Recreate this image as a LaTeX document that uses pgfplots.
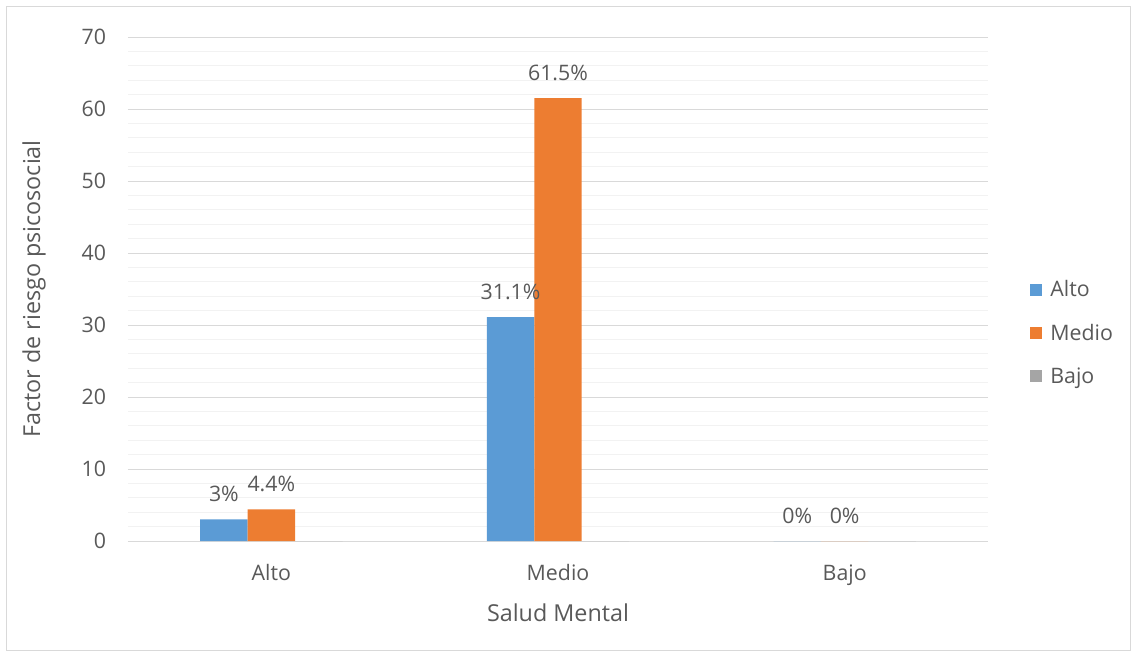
\documentclass[border=0pt]{standalone}
\usepackage{pgfplots}
\pgfplotsset{compat=1.18}
\usepackage{fontspec}
\setmainfont{Open Sans}
\definecolor{cblue}{HTML}{5B9BD5}
\definecolor{corange}{HTML}{ED7D31}
\definecolor{cgray}{HTML}{A5A5A5}
\definecolor{ctext}{HTML}{595959}
\definecolor{cgrid}{HTML}{D9D9D9}
\definecolor{cminor}{HTML}{F2F2F2}
\begin{document}
\begin{tikzpicture}
\useasboundingbox (-96pt,-84pt) rectangle (752.25pt,405.75pt);
\draw[cgrid, line width=0.75pt] (-90.75pt,-81.75pt) rectangle (751.5pt,400.5pt);
\begin{axis}[
  at={(0,0)}, anchor=south west,
  scale only axis, width=645pt, height=378pt,
  ybar=0pt, bar width=0.1655,
  xmin=-0.5, xmax=2.5, ymin=0, ymax=70,
  xtick={0,1,2}, xticklabels={Alto,Medio,Bajo},
  ytick={0,10,...,70},
  minor y tick num=4,
  ymajorgrids, yminorgrids,
  major grid style={cgrid, line width=0.75pt},
  minor grid style={cminor, line width=0.75pt},
  major tick length=0pt, minor tick length=0pt,
  axis line style={draw=none},
  ticklabel style={font=\fontsize{16}{18}\selectfont, text=ctext},
  /pgf/number format/assume math mode=true,
  yticklabel style={xshift=-13pt},
  xticklabel style={yshift=-14pt},
  xlabel={Salud Mental}, ylabel={Factor de riesgo psicosocial},
  label style={font=\fontsize{17.5}{20}\selectfont, text=ctext},
  ylabel style={yshift=20pt},
  xlabel style={yshift=-7pt},
  nodes near coords={\pgfplotspointmeta},
  point meta=explicit symbolic,
  every node near coord/.append style={font=\fontsize{16}{18}\selectfont, text=ctext, yshift=9.5pt},
  legend style={at={(1.049,0.413)}, anchor=west, draw=none, fill=none,
    font=\fontsize{16}{18}\selectfont, text=ctext, row sep=15pt, column sep=4pt,
    inner sep=0pt},
  legend cell align=left,
  legend image code/.code={\fill[#1, draw=none] (0pt,-4.5pt) rectangle (9pt,4.5pt);},
]
\addplot[fill=cblue, draw=none] coordinates {(0,3) [3\%] (1,31.1) [31.1\%] (2,0) [0\%]};
\addplot[fill=corange, draw=none] coordinates {(0,4.4) [4.4\%] (1,61.5) [61.5\%] (2,0) [0\%]};
\addplot[fill=cgray, draw=none, nodes near coords={}] coordinates {(0,0) [] (1,0) [] (2,0) []};
\legend{Alto,Medio,Bajo}
\end{axis}
\end{tikzpicture}
\end{document}
